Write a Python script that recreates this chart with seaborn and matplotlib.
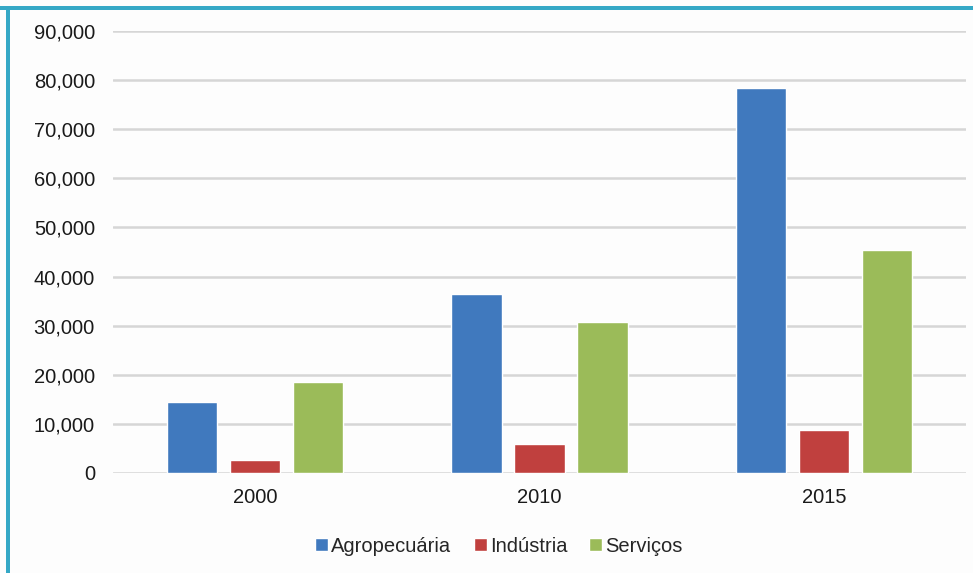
import matplotlib
matplotlib.use("Agg")
import matplotlib.pyplot as plt
import seaborn as sns
import pandas as pd
from matplotlib.patches import Rectangle
from matplotlib.ticker import FuncFormatter

years = ["2000", "2010", "2015"]
series = ["Agropecuária", "Indústria", "Serviços"]
agro = [14500, 36400, 78300]
industria = [2650, 5950, 8700]
servicos = [18500, 30750, 45350]
yticks = [0, 10000, 20000, 30000, 40000, 50000, 60000, 70000, 80000, 90000]
colors = ["#4079BE", "#C0403E", "#9BBB59"]

rows = []
for name, vals in zip(series, [agro, industria, servicos]):
    for y, v in zip(years, vals):
        rows.append({"Ano": y, "Setor": name, "Valor": v})
df = pd.DataFrame(rows)

sns.set_theme(style="white")
plt.rcParams["font.family"] = ["Liberation Sans", "DejaVu Sans"]

fig = plt.figure(figsize=(9.73, 5.73), dpi=100, facecolor="#FDFDFD")
ax = fig.add_axes([113/973, 1-473/573, (966-113)/973, (473-31)/573])
ax.set_facecolor("#FDFDFD")

sns.barplot(data=df, x="Ano", y="Valor", hue="Setor", order=years,
            hue_order=series, palette=colors, width=0.665, gap=0.2,
            saturation=1, ax=ax, zorder=3, legend=True)

ax.set_ylim(0, 90000)
ax.set_yticks(yticks)
ax.yaxis.set_major_formatter(FuncFormatter(lambda v, p: f"{int(v):,}"))
ax.grid(axis="y", color="#D6D6D6", linewidth=1.8, zorder=0)
ax.grid(axis="x", visible=False)
for s in ax.spines.values():
    s.set_visible(False)
ax.tick_params(axis="both", length=0, labelsize=14.5, colors="#1a1a1a")
ax.tick_params(axis="y", pad=13)
ax.tick_params(axis="x", pad=11)
ax.set_xlabel("")
ax.set_ylabel("")
ax.set_xlim(-0.5, 2.5)

ax.legend(loc="center", bbox_to_anchor=(499/973, 1-546/573),
          bbox_transform=fig.transFigure, ncol=3, frameon=False,
          fontsize=14.5, handlelength=0.65, handleheight=0.65,
          handletextpad=0.15, columnspacing=1.1)

# teal border (top and left)
fig.patches.append(Rectangle((0, 1-10/573), 1, 4/573, transform=fig.transFigure,
                             facecolor="#35A8C6", edgecolor="none"))
fig.patches.append(Rectangle((6/973, 0), 4/973, 1-6/573, transform=fig.transFigure,
                             facecolor="#35A8C6", edgecolor="none"))

fig.savefig("out.png", dpi=100, facecolor=fig.get_facecolor())
